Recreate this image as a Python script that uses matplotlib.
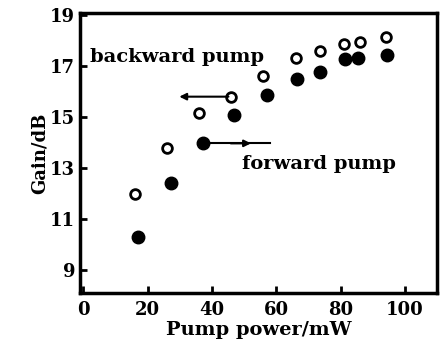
import numpy as np
import matplotlib.pyplot as plt

# backward pump (open circles)
back_power = [16, 26, 36, 46, 56, 66, 73.5, 81, 86, 94]
back_gain = [12.0, 13.8, 15.15, 15.8, 16.6, 17.3, 17.6, 17.85, 17.93, 18.15]

# forward pump (filled circles)
fwd_power = [17, 27.3, 37.3, 47, 57, 66.3, 73.5, 81.5, 85.5, 94.4]
fwd_gain = [10.3, 12.4, 13.97, 15.1, 15.87, 16.5, 16.77, 17.27, 17.3, 17.43]

xticks = [0, 20, 40, 60, 80, 100]
yticks = [9, 11, 13, 15, 17, 19]

plt.rcParams['font.family'] = ['DejaVu Serif']
plt.rcParams['font.weight'] = 'bold'

fig = plt.figure(figsize=(4.42, 3.42), dpi=100)
ax = fig.add_axes([0.181, 0.143, 0.808, 0.819])

ax.plot(fwd_power, fwd_gain, 'o', color='k', markersize=9, linestyle='none')
ax.plot(back_power, back_gain, 'o', markerfacecolor='white', markeredgecolor='k',
        markeredgewidth=2, markersize=7, linestyle='none')

# arrows pointing to the curves' axes
ax.annotate('', xy=(29, back_gain[3]), xytext=(back_power[3], back_gain[3]),
            arrowprops=dict(arrowstyle='-|>', color='k', lw=1.5, mutation_scale=10))
ax.plot([fwd_power[2], 58], [fwd_gain[2], fwd_gain[2]], 'k-', lw=1.5)
ax.annotate('', xy=(53, fwd_gain[2]), xytext=(45, fwd_gain[2]),
            arrowprops=dict(arrowstyle='-|>', color='k', lw=1.5, mutation_scale=10))

ax.text(2, 17.35, 'backward pump', fontsize=14, fontweight='bold', va='center', ha='left')
ax.text(49.5, 13.15, 'forward pump', fontsize=14, fontweight='bold', va='center', ha='left')

ax.set_xlim(-1, 110)
ax.set_ylim(8.1, 19.08)
ax.set_xticks(xticks)
ax.set_yticks(yticks)
ax.tick_params(direction='in', length=5, width=2, labelsize=13)
ax.tick_params(axis='x', pad=6)
for s in ax.spines.values():
    s.set_linewidth(2.5)

ax.set_xlabel('Pump power/mW', fontsize=14, fontweight='bold', labelpad=1)
ax.set_ylabel('Gain/dB', fontsize=13, fontweight='bold', labelpad=1)

fig.savefig('out.png', dpi=100)
